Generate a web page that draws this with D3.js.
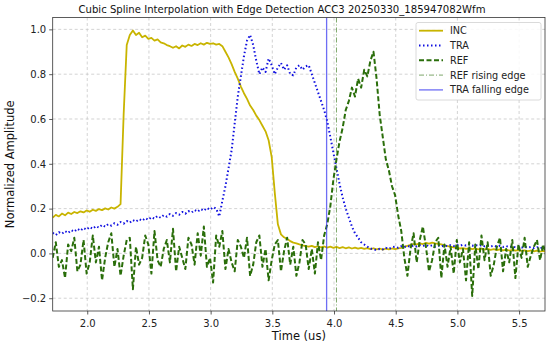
<!DOCTYPE html>
<html>
<head>
<meta charset="utf-8">
<script src="https://cdn.jsdelivr.net/npm/d3@7"></script>
<style>
	body { margin: 0; background: #fff; }
	svg { display: block; font-family: 'DejaVu Sans', sans-serif; }
</style>
</head>
<body>
<div id="chart"></div>
<script>
'use strict';

// sampling of the three waveforms (us)
var T_START = 1.72;
var T_STEP = 0.025;

var incValues = [
	0.160,0.172,0.165,0.178,0.170,0.182,0.176,0.185,0.180,0.188,
	0.183,0.192,0.186,0.195,0.190,0.198,0.193,0.201,0.196,0.205,
	0.200,0.208,0.220,0.620,0.930,0.975,0.995,0.975,0.985,0.965,
	0.972,0.958,0.962,0.950,0.955,0.942,0.938,0.930,0.925,0.918,
	0.925,0.915,0.928,0.922,0.932,0.926,0.935,0.930,0.938,0.932,
	0.940,0.935,0.938,0.932,0.935,0.925,0.900,0.875,0.845,0.810,
	0.780,0.745,0.715,0.690,0.660,0.640,0.615,0.595,0.570,0.545,
	0.505,0.430,0.270,0.130,0.085,0.072,0.065,0.055,0.048,0.045,
	0.040,0.036,0.033,0.030,0.034,0.028,0.032,0.027,0.031,0.026,
	0.030,0.025,0.029,0.024,0.028,0.023,0.027,0.022,0.026,0.021,
	0.025,0.020,0.024,0.019,0.023,0.018,0.022,0.017,0.021,0.018,
	0.022,0.019,0.023,0.025,0.030,0.034,0.038,0.042,0.040,0.045,
	0.042,0.047,0.044,0.048,0.045,0.043,0.040,0.036,0.033,0.030,
	0.027,0.025,0.022,0.024,0.020,0.023,0.019,0.022,0.018,0.021,
	0.017,0.020,0.016,0.019,0.015,0.018,0.014,0.017,0.013,0.016,
	0.012,0.015,0.011,0.014,0.010,0.013,0.009,0.012,0.008,0.011,
	0.007
];

var traValues = [
	0.092,0.082,0.095,0.088,0.100,0.091,0.104,0.097,0.110,0.101,
	0.114,0.106,0.118,0.110,0.122,0.115,0.127,0.119,0.131,0.124,
	0.135,0.128,0.140,0.133,0.145,0.137,0.149,0.142,0.153,0.146,
	0.158,0.150,0.162,0.155,0.167,0.159,0.171,0.164,0.176,0.168,
	0.180,0.173,0.185,0.177,0.189,0.182,0.194,0.186,0.198,0.190,
	0.203,0.195,0.207,0.200,0.165,0.235,0.300,0.380,0.460,0.580,
	0.700,0.790,0.880,0.950,0.975,0.930,0.860,0.800,0.830,0.810,
	0.870,0.840,0.800,0.830,0.850,0.820,0.840,0.800,0.795,0.830,
	0.840,0.820,0.835,0.840,0.800,0.760,0.720,0.680,0.640,0.590,
	0.520,0.450,0.380,0.310,0.250,0.200,0.160,0.120,0.090,0.070,
	0.050,0.040,0.030,0.022,0.018,0.015,0.020,0.018,0.025,0.020,
	0.028,0.030,0.025,0.032,0.028,0.034,0.030,0.036,0.031,0.037,
	0.033,0.038,0.032,0.036,0.030,0.035,0.031,0.036,0.032,0.037,
	0.033,0.038,0.034,0.039,0.035,0.040,0.034,0.038,0.033,0.037,
	0.032,0.036,0.031,0.035,0.030,0.034,0.029,0.033,0.028,0.032,
	0.027,0.031,0.026,0.030,0.025,0.029,0.024,0.028,0.023,0.027,
	0.022
];

var refValues = [
	-0.02,0.05,-0.06,-0.03,-0.11,0.04,0.01,0.07,-0.08,-0.05,
	0.06,-0.09,-0.04,0.08,-0.04,0.03,-0.12,-0.02,0.05,0.09,
	-0.06,0.02,-0.10,-0.01,0.06,0.07,-0.16,0.03,-0.05,-0.02,
	0.08,0.04,-0.09,0.10,-0.03,-0.06,0.02,0.06,-0.04,0.11,
	-0.08,0.03,-0.02,-0.07,0.07,0.04,-0.05,0.09,-0.01,0.12,
	-0.06,-0.02,-0.13,0.08,0.03,0.10,-0.07,0.02,-0.04,-0.08,
	0.06,0.03,-0.02,0.07,-0.10,-0.05,0.05,0.08,-0.06,0.02,
	-0.12,-0.03,0.04,0.06,-0.08,0.01,0.07,-0.05,0.03,-0.10,
	-0.04,0.06,0.04,-0.07,0.02,-0.09,0.05,-0.03,0.08,0.13,
	0.21,0.33,0.42,0.50,0.56,0.64,0.68,0.74,0.70,0.78,
	0.74,0.82,0.79,0.86,0.90,0.78,0.62,0.52,0.42,0.37,
	0.30,0.26,0.17,0.10,-0.02,-0.10,0.02,0.09,-0.04,0.06,
	0.12,0.03,-0.08,-0.03,0.05,0.07,-0.11,0.04,-0.06,0.03,
	-0.09,0.06,-0.04,0.02,-0.12,0.05,-0.19,0.04,-0.07,0.08,
	-0.03,0.05,-0.10,-0.05,0.03,0.07,-0.08,0.02,-0.04,0.06,
	-0.11,0.04,-0.02,0.07,-0.06,-0.01,0.03,0.06,-0.03,0.04,
	-0.01
];

// detected edges (us)
var refRisingEdge = 4.02;
var traFallingEdge = 3.94;

var xTicks = [2.0, 2.5, 3.0, 3.5, 4.0, 4.5, 5.0, 5.5];
var yTicks = [-0.2, 0.0, 0.2, 0.4, 0.6, 0.8, 1.0];

var legendItems = [
	{ label: 'INC', color: '#c8b400', dash: null, width: 1.8, opacity: 1 },
	{ label: 'TRA', color: '#1010e0', dash: '1.5,2.5', width: 2, opacity: 1 },
	{ label: 'REF', color: '#2a6e0a', dash: '5,2.5', width: 2, opacity: 1 },
	{ label: 'REF rising edge', color: '#2a6e0a', dash: '5,2,1,2', width: 1, opacity: 0.6 },
	{ label: 'TRA falling edge', color: '#3030f0', dash: null, width: 1.3, opacity: 0.7 }
];

var width = 550, height = 347;
var margin = { top: 17.5, right: 5, bottom: 36, left: 52.7 };
var innerW = width - margin.left - margin.right;
var innerH = height - margin.top - margin.bottom;

var svg = d3.select('#chart').append('svg')
	.attr('width', width)
	.attr('height', height);

var g = svg.append('g')
	.attr('transform', 'translate(' + margin.left + ',' + margin.top + ')');

// define x/y-scale
var xScale = d3.scaleLinear().domain([1.72, 5.71]).range([0, innerW]);
var yScale = d3.scaleLinear().domain([-0.257, 1.053]).range([innerH, 0]);

g.append('clipPath').attr('id', 'plot-clip')
	.append('rect').attr('width', innerW).attr('height', innerH);

// grid
g.append('g').selectAll('line').data(xTicks).enter().append('line')
	.attr('x1', function(d) { return xScale(d); })
	.attr('x2', function(d) { return xScale(d); })
	.attr('y1', 0).attr('y2', innerH)
	.attr('stroke', '#c8c8c8').attr('stroke-width', 0.8)
	.attr('stroke-dasharray', '3,2.5');
g.append('g').selectAll('line').data(yTicks).enter().append('line')
	.attr('y1', function(d) { return yScale(d); })
	.attr('y2', function(d) { return yScale(d); })
	.attr('x1', 0).attr('x2', innerW)
	.attr('stroke', '#c8c8c8').attr('stroke-width', 0.8)
	.attr('stroke-dasharray', '3,2.5');

var toPoints = function(values) {
	return values.map(function(v, i) { return { t: T_START + i * T_STEP, v: v }; });
};

var line = d3.line()
	.x(function(d) { return xScale(d.t); })
	.y(function(d) { return yScale(d.v); });

var plot = g.append('g').attr('clip-path', 'url(#plot-clip)');

var series = [incValues, traValues, refValues];
series.forEach(function(values, i) {
	var s = legendItems[i];
	plot.append('path')
		.datum(toPoints(values))
		.attr('d', line)
		.attr('fill', 'none')
		.attr('stroke', s.color)
		.attr('stroke-width', s.width)
		.attr('stroke-dasharray', s.dash)
		.attr('stroke-linejoin', 'round');
});

// edge markers
[refRisingEdge, traFallingEdge].forEach(function(t, i) {
	var s = legendItems[i + 3];
	plot.append('line')
		.attr('x1', xScale(t)).attr('x2', xScale(t))
		.attr('y1', 0).attr('y2', innerH)
		.attr('stroke', s.color)
		.attr('stroke-opacity', s.opacity)
		.attr('stroke-width', s.width)
		.attr('stroke-dasharray', s.dash);
});

// axes
var xAxis = g.append('g')
	.attr('transform', 'translate(0,' + innerH + ')')
	.call(d3.axisBottom(xScale).tickValues(xTicks).tickFormat(d3.format('.1f')).tickSizeOuter(0).tickSize(3.5));
var yAxis = g.append('g')
	.call(d3.axisLeft(yScale).tickValues(yTicks).tickFormat(function(d) {
		return d3.format('.1f')(d).replace('-', '\u2212');
	}).tickSizeOuter(0).tickSize(3.5));

[xAxis, yAxis].forEach(function(a) {
	a.selectAll('text').attr('font-size', 10).attr('fill', '#222').attr('font-family', 'DejaVu Sans');
	a.selectAll('line').attr('stroke', '#333').attr('stroke-width', 0.8);
	a.select('.domain').remove();
});
xAxis.selectAll('text').attr('dy', '0.95em');

// axes frame
g.append('rect')
	.attr('width', innerW).attr('height', innerH)
	.attr('fill', 'none').attr('stroke', '#333').attr('stroke-width', 0.8);

// title and labels
svg.append('text')
	.attr('x', 282).attr('y', 12.5)
	.attr('text-anchor', 'middle').attr('font-size', 10.1).attr('fill', '#111')
	.text('Cubic Spline Interpolation with Edge Detection ACC3 20250330_185947082Wfm');
svg.append('text')
	.attr('x', margin.left + innerW / 2).attr('y', 340)
	.attr('text-anchor', 'middle').attr('font-size', 11.5).attr('fill', '#111')
	.text('Time (us)');
svg.append('text')
	.attr('transform', 'translate(14,' + (margin.top + innerH / 2) + ') rotate(-90)')
	.attr('text-anchor', 'middle').attr('font-size', 11.5).attr('fill', '#111')
	.text('Normalized Amplitude');

// legend
var legend = svg.append('g').attr('transform', 'translate(416,22.5)');
legend.append('rect')
	.attr('width', 125).attr('height', 77.5).attr('rx', 2)
	.attr('fill', '#fff').attr('fill-opacity', 0.85)
	.attr('stroke', '#d0d0d0').attr('stroke-width', 0.8);
var rows = legend.selectAll('.row').data(legendItems).enter().append('g')
	.attr('transform', function(d, i) { return 'translate(0,' + (8.2 + i * 14.8) + ')'; });
rows.append('line')
	.attr('x1', 3).attr('x2', 27)
	.attr('stroke', function(d) { return d.color; })
	.attr('stroke-opacity', function(d) { return d.opacity; })
	.attr('stroke-width', function(d) { return d.width; })
	.attr('stroke-dasharray', function(d) { return d.dash; });
rows.append('text')
	.attr('x', 34).attr('dy', '0.35em')
	.attr('font-size', 9.7).attr('fill', '#222')
	.text(function(d) { return d.label; });
</script>
</body>
</html>
